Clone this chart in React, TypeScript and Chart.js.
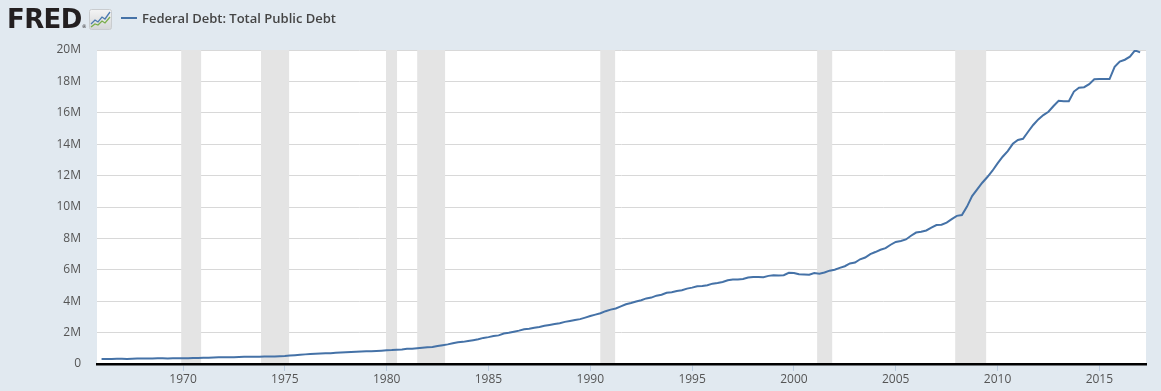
import React, { useEffect, useRef } from "react";
import { Chart, registerables } from "chart.js";

Chart.register(...registerables);

const seriesTitle = "Federal Debt: Total Public Debt";
const startYear = 1966;
// quarterly values, millions of millions of dollars (1966Q1 .. 2017Q1)
const debtQuarterly = [
  0.321, 0.317, 0.324, 0.329,
  0.330, 0.323, 0.335, 0.344,
  0.347, 0.348, 0.356, 0.359,
  0.362, 0.354, 0.365, 0.368,
  0.372, 0.370, 0.380, 0.389,
  0.391, 0.399, 0.410, 0.424,
  0.428, 0.427, 0.437, 0.450,
  0.458, 0.458, 0.465, 0.469,
  0.473, 0.475, 0.482, 0.493,
  0.510, 0.539, 0.561, 0.588,
  0.613, 0.632, 0.647, 0.665,
  0.679, 0.691, 0.709, 0.730,
  0.750, 0.769, 0.780, 0.790,
  0.807, 0.814, 0.828, 0.847,
  0.873, 0.884, 0.909, 0.930,
  0.964, 0.971, 0.998, 1.029,
  1.063, 1.085, 1.143, 1.201,
  1.250, 1.319, 1.378, 1.410,
  1.463, 1.517, 1.573, 1.663,
  1.711, 1.778, 1.823, 1.945,
  1.986, 2.059, 2.125, 2.214,
  2.249, 2.310, 2.351, 2.432,
  2.490, 2.548, 2.602, 2.684,
  2.741, 2.799, 2.857, 2.953,
  3.052, 3.143, 3.233, 3.364,
  3.465, 3.538, 3.666, 3.801,
  3.881, 3.984, 4.065, 4.177,
  4.230, 4.352, 4.411, 4.536,
  4.576, 4.645, 4.693, 4.800,
  4.864, 4.951, 4.974, 5.017,
  5.117, 5.162, 5.225, 5.328,
  5.380, 5.377, 5.414, 5.503,
  5.542, 5.548, 5.526, 5.614,
  5.651, 5.639, 5.656, 5.810,
  5.800, 5.716, 5.704, 5.692,
  5.794, 5.750, 5.827, 5.944,
  6.006, 6.126, 6.228, 6.405,
  6.460, 6.670, 6.783, 6.998,
  7.131, 7.274, 7.379, 7.596,
  7.776, 7.836, 7.933, 8.170,
  8.371, 8.420, 8.507, 8.680,
  8.849, 8.868, 9.008, 9.229,
  9.437, 9.492, 10.025, 10.699,
  11.127, 11.545, 11.910, 12.311,
  12.773, 13.202, 13.562, 14.025,
  14.270, 14.343, 14.791, 15.223,
  15.582, 15.856, 16.067, 16.433,
  16.771, 16.738, 16.738, 17.352,
  17.601, 17.633, 17.824, 18.141,
  18.152, 18.152, 18.151, 18.922,
  19.264, 19.381, 19.573, 19.977,
  19.846,
];

const recessionStarts = [1969.91, 1973.83, 1979.97, 1981.5, 1990.49, 2001.14, 2007.92];
const recessionEnds = [1970.89, 1975.21, 1980.51, 1982.87, 1991.22, 2001.88, 2009.44];

const xTickValues = [1970, 1975, 1980, 1985, 1990, 1995, 2000, 2005, 2010, 2015];
const yTickValues = [0, 2, 4, 6, 8, 10, 12, 14, 16, 18, 20];
const xMin = 1965.776;
const xMax = 2017.29;

const recessionPlugin = {
  id: "recessions",
  beforeDatasetsDraw(chart: any) {
    const { ctx, chartArea, scales } = chart;
    const x = scales.x;
    ctx.save();
    ctx.fillStyle = "#e4e4e4";
    for (let i = 0; i < recessionStarts.length; i++) {
      const a = x.getPixelForValue(recessionStarts[i]);
      const b = x.getPixelForValue(recessionEnds[i]);
      ctx.fillRect(a, chartArea.top, b - a, chartArea.bottom - chartArea.top - 1);
    }
    ctx.restore();
  },
};

const bgPlugin = {
  id: "plotbg",
  beforeDraw(chart: any) {
    const { ctx, chartArea } = chart;
    ctx.save();
    ctx.fillStyle = "#ffffff";
    ctx.fillRect(chartArea.left, chartArea.top, chartArea.right - chartArea.left, chartArea.bottom - chartArea.top);
    ctx.restore();
  },
};

function FredIcon() {
  return (
    <svg width="23" height="21" viewBox="0 0 23 21" style={{ position: "absolute", left: 89, top: 9 }}>
      <defs>
        <linearGradient id="ig" x1="0" y1="0" x2="0" y2="1">
          <stop offset="0" stopColor="#f4f4f4" />
          <stop offset="1" stopColor="#d4d6d8" />
        </linearGradient>
      </defs>
      <rect x="0.5" y="0.5" width="22" height="20" rx="2" fill="url(#ig)" stroke="#c9cccf" />
      <polyline points="2,15 6,11 9,13 13,8 16,10 21,3" fill="none" stroke="#4c7bb0" strokeWidth="1.3" />
      <polyline points="2,18 6,15 9,16 13,12 16,14 21,8" fill="none" stroke="#7aae4a" strokeWidth="1.3" />
    </svg>
  );
}

export default function App() {
  const canvasRef = useRef<HTMLCanvasElement | null>(null);

  useEffect(() => {
    const canvas = canvasRef.current;
    if (!canvas) return;
    const points = debtQuarterly.map((v, i) => ({ x: startYear + i / 4, y: v }));
    const chart = new Chart(canvas, {
      type: "line",
      data: {
        datasets: [
          {
            label: seriesTitle,
            data: points,
            borderColor: "#4572a7",
            borderWidth: 2,
            pointRadius: 0,
            tension: 0,
            fill: false,
          },
        ],
      },
      options: {
        animation: false,
        responsive: false,
        devicePixelRatio: 1,
        layout: { padding: { top: 50, right: 15, bottom: 0, left: 0 } },
        plugins: { legend: { display: false }, tooltip: { enabled: false } },
        scales: {
          x: {
            type: "linear",
            min: xMin,
            max: xMax,
            afterBuildTicks: (scale: any) => {
              scale.ticks = xTickValues.map((v) => ({ value: v }));
            },
            afterFit: (scale: any) => {
              scale.height = 27;
            },
            grid: {
              drawOnChartArea: false,
              drawTicks: true,
              tickLength: 7,
              color: "#bccde0",
            },
            border: { display: true, color: "#000000", width: 2.5 },
            ticks: {
              color: "#555555",
              font: { family: "'Open Sans', sans-serif", size: 12 },
              padding: 1,
              maxRotation: 0,
              callback: (v: any) => String(v),
            },
          },
          y: {
            type: "linear",
            min: 0,
            max: 20,
            afterBuildTicks: (scale: any) => {
              scale.ticks = yTickValues.map((v) => ({ value: v }));
            },
            afterFit: (scale: any) => {
              scale.width = 97;
            },
            grid: { color: "#d8d8d8", lineWidth: 1, drawTicks: false },
            border: { display: false },
            ticks: {
              color: "#555555",
              font: { family: "'Open Sans', sans-serif", size: 12 },
              padding: 16,
              callback: (v: any) => (v === 0 ? "0" : v + "M"),
            },
          },
        },
      },
      plugins: [bgPlugin, recessionPlugin],
    });
    return () => chart.destroy();
  }, []);

  return (
    <div
      style={{
        position: "absolute",
        left: 0,
        top: 0,
        width: 1161,
        height: 391,
        background: "#e1e9f0",
        overflow: "hidden",
      }}
    >
      <canvas ref={canvasRef} width={1161} height={391} style={{ position: "absolute", left: 0, top: 0 }} />
      <div
        style={{
          position: "absolute",
          left: 7,
          top: 1,
          fontFamily: "'DejaVu Sans', sans-serif",
          fontWeight: 700,
          fontSize: 26,
          color: "#231f20",
          lineHeight: "36px",
          letterSpacing: -0.6,
          whiteSpace: "nowrap",
        }}
      >
        FRED
        <span style={{ fontSize: 5, fontWeight: 400, letterSpacing: 0, verticalAlign: "baseline" }}>®</span>
      </div>
      <FredIcon />
      <div style={{ position: "absolute", left: 121, top: 17, width: 16, height: 2, background: "#4572a7" }} />
      <div
        style={{
          position: "absolute",
          left: 142,
          top: 9,
          fontFamily: "'Open Sans', sans-serif",
          fontWeight: 600,
          fontSize: 13,
          lineHeight: "18px",
          color: "#444444",
          whiteSpace: "nowrap",
        }}
      >
        {seriesTitle}
      </div>
    </div>
  );
}
